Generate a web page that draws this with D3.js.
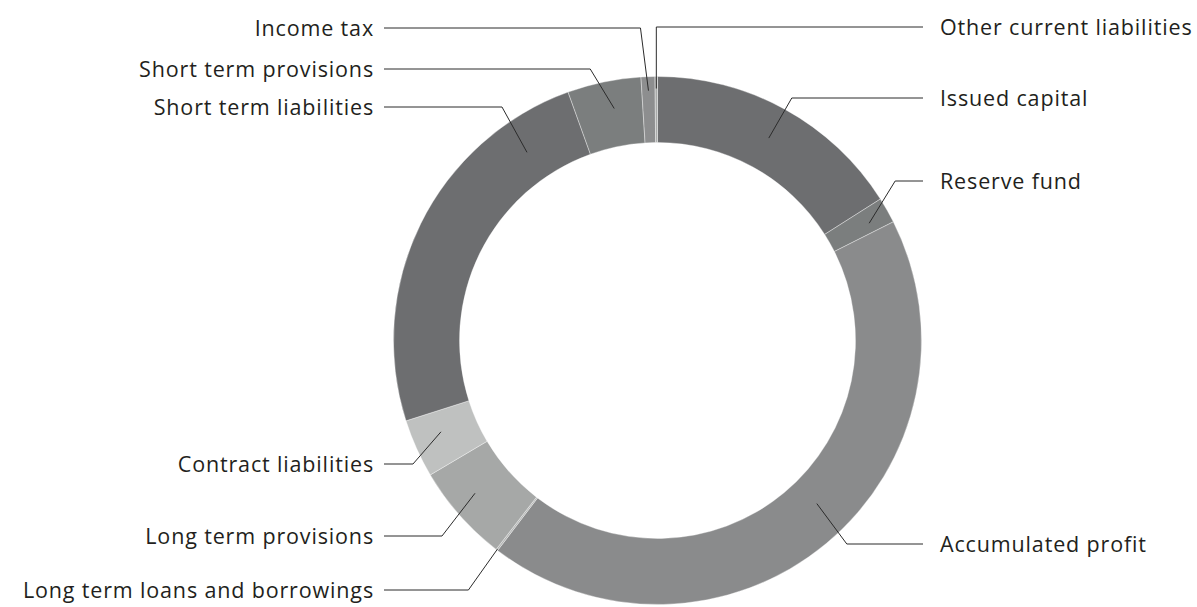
<html>
  <head>
    <meta charset="utf-8">
    <title>Liabilities and equity structure</title>
    <script src="https://d3js.org/d3.v7.min.js" charset="utf-8"></script>
    <style>
      body { margin: 0; background: #fff; }
      text { font-family: "Open Sans", "Noto Sans", sans-serif; fill: #231f20; }
    </style>
  </head>
  <body>
    <script>
      // slice names and shares (%), clockwise from 12 o'clock
      var categories = ["Issued capital", "Reserve fund", "Accumulated profit",
        "Long term loans and borrowings", "Long term provisions", "Contract liabilities",
        "Short term liabilities", "Short term provisions", "Income tax", "Other current liabilities"];
      var shares = [16.0, 1.58, 42.78, 0.11, 6.03, 3.58, 24.42, 4.5, 0.85, 0.15];

      // label layout: which side, y of the label row, where the leader hits the slice
      var labelSide = ["right", "right", "right", "left", "left", "left", "left", "left", "left", "right"];
      var labelY = [98, 181, 544, 590, 536, 464, 107, 69, 28, 27];
      var anchorT = [0.5, 0.6, 0.47, 0.5, 0.57, 0.6, 0.83, 0.57, 0.5, 0.5];
      var anchorR = [231, 242, 228, 263, 238, 235, 229, 236, 250, 252];
      var elbowDx = [23, 26, 30, -29, -33, -28, -25, -24, -8, 0];

      var palette = ["#6d6e70", "#7b7e7e", "#8a8b8c", "#b4b6b5", "#a6a8a7", "#bfc1c0",
        "#6d6e70", "#7b7e7e", "#8d8e8f", "#a8aaa9"];

      var width = 1197,
          height = 607,
          cx = 657.5,
          cy = 340.5,
          outerR = 264,
          innerR = 198;

      var svg = d3.select("body").append("svg")
          .attr("width", width)
          .attr("height", height);

      var data = categories.map(function(c, i) {
          return { name: c, value: shares[i], i: i };
      });

      var pie = d3.pie()
          .sort(null)
          .value(function(d) { return d.value; });

      var arc = d3.arc()
          .innerRadius(innerR)
          .outerRadius(outerR);

      var arcs = pie(data);

      var g = svg.append("g")
          .attr("transform", "translate(" + cx + "," + cy + ")");

      g.selectAll("path")
          .data(arcs)
          .enter()
          .append("path")
          .attr("d", arc)
          .attr("fill", function(d) { return palette[d.index]; })
          .attr("stroke", "#ffffff")
          .attr("stroke-opacity", 0.6)
          .attr("stroke-width", 0.6);

      // leader lines + labels
      var lines = svg.append("g");
      arcs.forEach(function(d) {
          var i = d.index;
          var a = d.startAngle + anchorT[i] * (d.endAngle - d.startAngle);
          var ax = cx + anchorR[i] * Math.sin(a),
              ay = cy - anchorR[i] * Math.cos(a);
          var ex = ax + elbowDx[i],
              ey = labelY[i];
          var right = labelSide[i] == "right";
          var endX = right ? 923 : 384;

          lines.append("polyline")
              .attr("points", [[ax, ay], [ex, ey], [endX, ey]].map(function(p) { return p.join(","); }).join(" "))
              .attr("fill", "none")
              .attr("stroke", "#2b2b2b")
              .attr("stroke-width", 1);

          lines.append("text")
              .attr("x", right ? 940 : 374)
              .attr("y", ey)
              .attr("dy", "0.35em")
              .attr("text-anchor", right ? "start" : "end")
              .attr("font-size", "21.5px")
              .attr("letter-spacing", "0.85px")
              .text(d.data.name);
      });
    </script>
  </body>
</html>
